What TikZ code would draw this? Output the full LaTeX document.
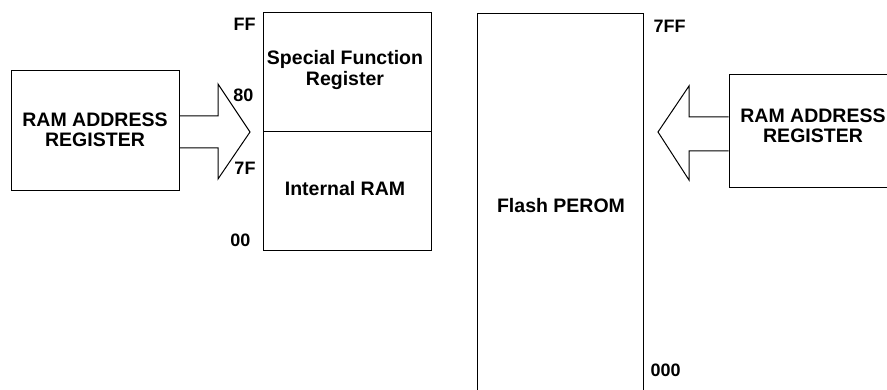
\documentclass[tikz,border=0pt]{standalone}
\usepackage{fontspec}
\setmainfont{Liberation Sans}
\begin{document}
\begin{tikzpicture}[x=1pt,y=-1pt,line width=1pt,line join=miter,
  box/.style={draw,line width=1pt,inner sep=0pt},
  txt/.style={font=\fontsize{19.5}{20.5}\selectfont\bfseries,align=center,inner sep=0pt},
  lbl/.style={font=\fontsize{18}{20}\selectfont\bfseries,inner sep=0pt}]
\useasboundingbox (0,0) rectangle (887,390);
\clip (0,0) rectangle (887,390);
% left register
\node[box,minimum width=168pt,minimum height=120pt] (lram) at (95,131) {};
\node[txt] (lramtxt) at (95,130) {RAM ADDRESS\\REGISTER};
% data memory
\node[box,minimum width=168pt,minimum height=119pt] (sfr) at (347,72.5) {};
\node[box,minimum width=168pt,minimum height=119pt] (iram) at (347,191.5) {};
\node[txt] (sfrtxt) at (345,70) {Special Function\\Register};
\node[txt] (iramtxt) at (345,189) {Internal RAM};
% flash
\node[box,minimum width=166pt,minimum height=386pt] (flash) at (560,207) {};
\node[txt] (flashtxt) at (561,206) {Flash PEROM};
% right register
\node[box,minimum width=168pt,minimum height=113pt] (rram) at (813,131.5) {};
\node[txt] (rramtxt) at (813,126) {RAM ADDRESS\\REGISTER};
% address labels
\node[lbl,anchor=east] (ff) at (256,24) {FF};
\node[lbl,anchor=east] (a80) at (254,95) {80};
\node[lbl,anchor=east] (a7f) at (256,168) {7F};
\node[lbl,anchor=east] (a00) at (251,240) {00};
\node[lbl,anchor=west] (a7ff) at (653,26) {7FF};
\node[lbl,anchor=west] (a000) at (650,370) {000};
% block arrows
\coordinate (lst) at (179,116);
\coordinate (lsb) at (179,148);
\coordinate (ltip) at (250,132);
\draw (lram.east|-lst) -- (218,116) -- (218,84) -- (ltip) -- (218,179) -- (218,148) -- (lram.east|-lsb);
\coordinate (rst) at (729,117);
\coordinate (rsb) at (729,151);
\coordinate (rtip) at (658,132);
\draw (rram.west|-rst) -- (689,117) -- (689,86) -- (rtip) -- (689,180) -- (689,151) -- (rram.west|-rsb);
\end{tikzpicture}
\end{document}
